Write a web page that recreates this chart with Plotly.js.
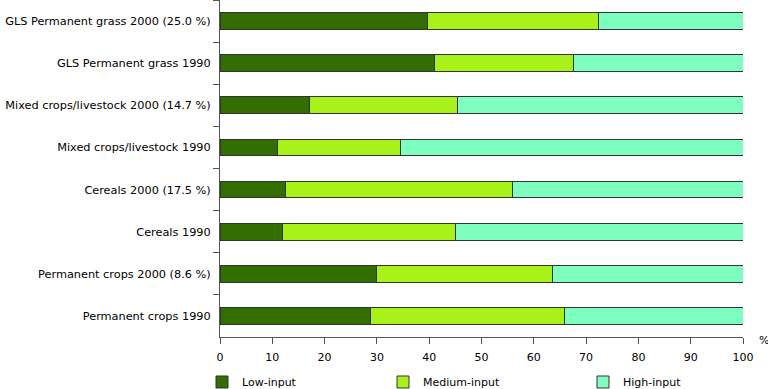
<!DOCTYPE html>
<html>
<head>
<meta charset="utf-8">
<script src="https://cdn.plot.ly/plotly-3.0.1.min.js"></script>
<style>html,body{margin:0;padding:0;background:#fff}#chart{width:768px;height:389px}</style>
</head>
<body>
<div id="chart"></div>
<script>
const categories = [
  "GLS Permanent grass 2000 (25.0 %)",
  "GLS Permanent grass 1990",
  "Mixed crops/livestock 2000 (14.7 %)",
  "Mixed crops/livestock 1990",
  "Cereals 2000 (17.5 %)",
  "Cereals 1990",
  "Permanent crops 2000 (8.6 %)",
  "Permanent crops 1990"
];
const lowInput    = [39.7, 41.1, 17.2, 11.0, 12.6, 11.9, 30.0, 28.8];
const mediumInput = [32.7, 26.4, 28.2, 23.5, 43.4, 33.2, 33.6, 37.1];
const highInput   = [27.6, 32.5, 54.6, 65.5, 44.0, 54.9, 36.4, 34.1];
const seriesNames = ["Low-input", "Medium-input", "High-input"];
const colors = ["#336e00", "#a8f21a", "#7fffbf"];

const series = [lowInput, mediumInput, highInput];
const legendIds = ["legend", "legend2", "legend3"];
const traces = series.map((vals, i) => ({
  type: "bar",
  orientation: "h",
  name: seriesNames[i],
  legend: legendIds[i],
  x: vals,
  y: categories,
  width: 0.4,
  marker: {color: colors[i], line: {color: "#333333", width: 1}},
  hoverinfo: "x+name"
}));

const legendBase = {orientation: "h", xref: "container", yref: "container",
  xanchor: "left", yanchor: "middle", y: 7 / 389, font: {size: 11},
  bgcolor: "rgba(0,0,0,0)", itemclick: false, itemdoubleclick: false};

const layout = {
  width: 768, height: 389,
  margin: {l: 220, r: 25, t: 0, b: 52, pad: 0},
  barmode: "stack",
  paper_bgcolor: "#fff", plot_bgcolor: "#fff",
  font: {family: "DejaVu Sans, Verdana, sans-serif", size: 11, color: "#000"},
  showlegend: true,
  legend:  Object.assign({}, legendBase, {x: 202 / 768}),
  legend2: Object.assign({}, legendBase, {x: 383 / 768}),
  legend3: Object.assign({}, legendBase, {x: 583 / 768}),
  xaxis: {range: [0, 100], dtick: 10, tick0: 0, showgrid: false, zeroline: false,
          showline: true, linecolor: "#555", linewidth: 1,
          ticks: "outside", ticklen: 6, tickcolor: "#555", fixedrange: true,
          ticklabelstandoff: 4, tickfont: {size: 11}},
  yaxis: {type: "category", autorange: "reversed", showgrid: false, zeroline: false,
          showline: true, linecolor: "#555", linewidth: 1,
          ticks: "outside", ticklen: 6, tickcolor: "#555", tickson: "boundaries",
          ticklabelstandoff: 6, tickfont: {size: 11.3}, fixedrange: true},
  annotations: [{text: "%", xref: "paper", yref: "paper", x: 1, y: 0, xanchor: "left",
                 yanchor: "middle", xshift: 14, yshift: -3, showarrow: false,
                 font: {size: 11}}]
};

Plotly.newPlot("chart", traces, layout, {displayModeBar: false});
</script>
</body>
</html>
